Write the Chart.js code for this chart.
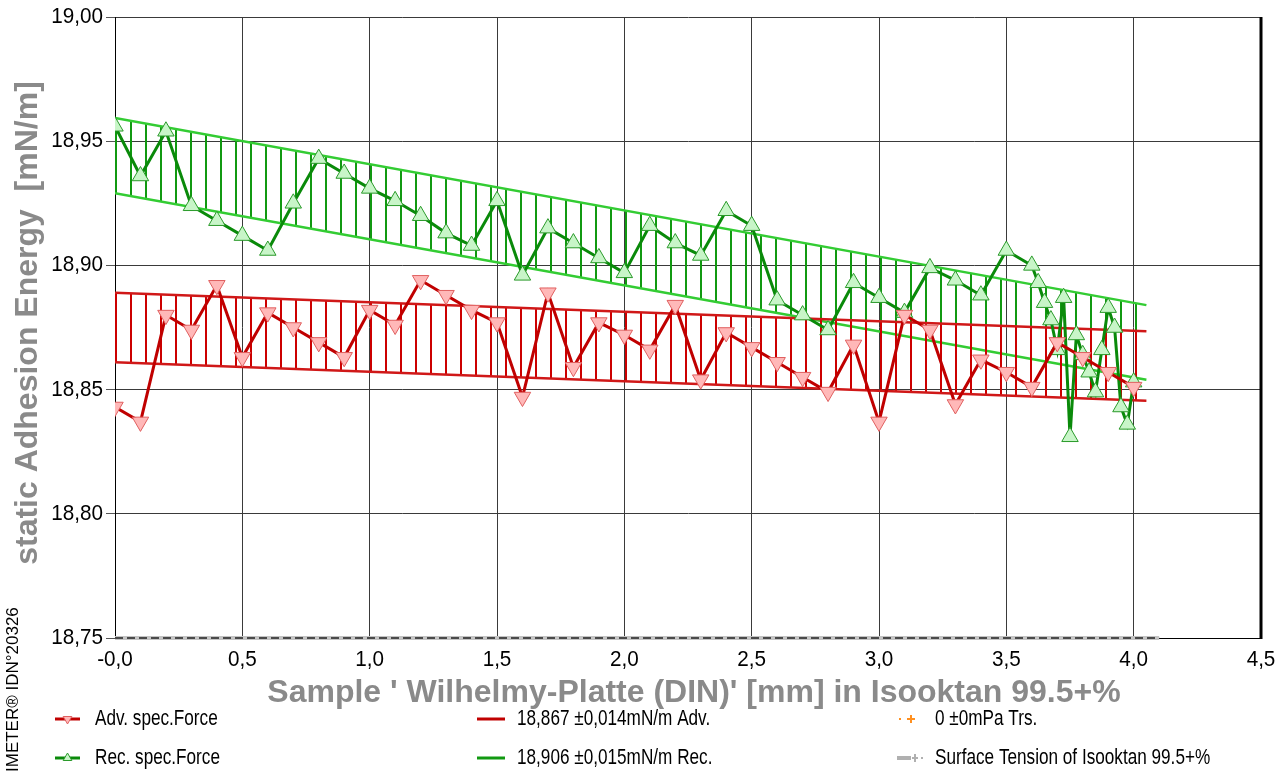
<!DOCTYPE html>
<html>
<head>
<meta charset="utf-8">
<script src="https://cdn.jsdelivr.net/npm/chart.js@4/dist/chart.umd.min.js"></script>
<style>
  html, body { margin: 0; padding: 0; background: #fff; }
  canvas { display: block; }
</style>
</head>
<body>
<canvas id="grafica" width="1279" height="771"></canvas>
<script>
// Datos
const xTickLabels = ["-0,0", "0,5", "1,0", "1,5", "2,0", "2,5", "3,0", "3,5", "4,0", "4,5"];
const yTickLabels = ["18,75", "18,80", "18,85", "18,90", "18,95", "19,00"];

const advX = [0, 0.1, 0.2, 0.3, 0.4, 0.5, 0.6, 0.7, 0.8, 0.9, 1.0, 1.1, 1.2, 1.3, 1.4, 1.5, 1.6, 1.7, 1.8, 1.9,
  2.0, 2.1, 2.2, 2.3, 2.4, 2.5, 2.6, 2.7, 2.8, 2.9, 3.0, 3.1, 3.2, 3.3, 3.4, 3.5, 3.6, 3.7, 3.8, 3.9, 4.0];
const advY = [18.843, 18.837, 18.880, 18.874, 18.892, 18.863, 18.881, 18.875, 18.869, 18.863, 18.882, 18.876,
  18.894, 18.888, 18.882, 18.877, 18.847, 18.889, 18.859, 18.877, 18.872, 18.866, 18.884, 18.854, 18.873,
  18.867, 18.861, 18.855, 18.849, 18.868, 18.837, 18.880, 18.874, 18.844, 18.862, 18.857, 18.851, 18.869,
  18.863, 18.857, 18.851];

const recX = [0, 0.1, 0.2, 0.3, 0.4, 0.5, 0.6, 0.7, 0.8, 0.9, 1.0, 1.1, 1.2, 1.3, 1.4, 1.5, 1.6, 1.7, 1.8, 1.9,
  2.0, 2.1, 2.2, 2.3, 2.4, 2.5, 2.6, 2.7, 2.8, 2.9, 3.0, 3.1, 3.2, 3.3, 3.4, 3.5, 3.6,
  3.625, 3.65, 3.675, 3.7, 3.725, 3.75, 3.775, 3.8, 3.825, 3.85, 3.875, 3.9, 3.925, 3.95, 3.975, 4.0];
const recY = [18.956, 18.936, 18.954, 18.924, 18.918, 18.912, 18.906, 18.925, 18.943, 18.937, 18.931, 18.926,
  18.920, 18.913, 18.908, 18.926, 18.896, 18.915, 18.909, 18.903, 18.897, 18.916, 18.909, 18.904, 18.922,
  18.916, 18.886, 18.880, 18.874, 18.893, 18.887, 18.881, 18.899, 18.894, 18.888, 18.906, 18.900,
  18.893, 18.885, 18.878, 18.866, 18.887, 18.831, 18.872, 18.864, 18.857, 18.849, 18.866, 18.883,
  18.875, 18.843, 18.836, 18.853];

// Bandas de error (mean ± desviación)
const bandX = [0, 4.05];
const advBandHi = [18.889, 18.8735];
const advBandLo = [18.861, 18.8455];
const recBandHi = [18.9593, 18.884];
const recBandLo = [18.9291, 18.854];

// Línea de tensión superficial (en el borde inferior)
const surfX = [0, 4.1];
const surfY = [18.75, 18.75];

const legendRows = [
  ["Adv. spec.Force", "18,867 ±0,014mN/m Adv.", "0 ±0mPa Trs."],
  ["Rec. spec.Force", "18,906 ±0,015mN/m Rec.", "Surface Tension of Isooktan 99.5+%"]
];

const FONT = "'Liberation Sans', Arial, sans-serif";
Chart.defaults.font.family = FONT;

function pts(xs, ys) {
  return xs.map((x, i) => ({ x: x, y: ys[i] }));
}

// Rayado vertical para las bandas
function rayado(color) {
  const c = document.createElement("canvas");
  c.width = 15;
  c.height = 4;
  const g = c.getContext("2d");
  g.fillStyle = color;
  g.fillRect(10, 0, 2, 4);
  return g.createPattern(c, "repeat");
}

function triangulo(ctx, x, y, r, abajo, fill, stroke) {
  const s = abajo ? -1 : 1;
  ctx.beginPath();
  ctx.moveTo(x, y - s * r);
  ctx.lineTo(x + r * 0.866, y + s * r / 2);
  ctx.lineTo(x - r * 0.866, y + s * r / 2);
  ctx.closePath();
  ctx.fillStyle = fill;
  ctx.fill();
  ctx.strokeStyle = stroke;
  ctx.lineWidth = 1;
  ctx.stroke();
}

// texto estrecho (como en el original)
function texto(ctx, t, x, y, escala) {
  ctx.save();
  ctx.translate(x, y);
  ctx.scale(escala, 1);
  ctx.fillText(t, 0, 0);
  ctx.restore();
}

const decor = {
  id: "decor",
  afterDraw(chart) {
    const ctx = chart.ctx;
    const a = chart.chartArea;
    const sx = chart.scales.x;
    const sy = chart.scales.y;
    ctx.save();

    // borde derecho grueso
    ctx.strokeStyle = "#000";
    ctx.lineWidth = 3;
    ctx.beginPath();
    ctx.moveTo(a.right, a.top);
    ctx.lineTo(a.right, a.bottom + 1);
    ctx.stroke();

    // etiquetas de los ejes
    ctx.fillStyle = "#000";
    ctx.font = "22px " + FONT;
    ctx.textBaseline = "middle";
    ctx.textAlign = "right";
    sy.ticks.forEach((t, i) => {
      texto(ctx, yTickLabels[i], 103, sy.getPixelForValue(t.value), 0.94);
    });
    ctx.textAlign = "center";
    sx.ticks.forEach((t, i) => {
      texto(ctx, xTickLabels[i], sx.getPixelForValue(t.value), 660, 0.94);
    });

    // títulos de ejes
    ctx.fillStyle = "#8a8a8a";
    ctx.font = "bold 32px " + FONT;
    ctx.textAlign = "center";
    ctx.textBaseline = "middle";
    ctx.fillText("Sample ' Wilhelmy-Platte (DIN)' [mm] in Isooktan 99.5+%", 694, 693);

    ctx.save();
    ctx.translate(28, 323);
    ctx.rotate(-Math.PI / 2);
    ctx.fillText("static Adhesion Energy  [mN/m]", 0, 0);
    ctx.restore();

    // texto vertical IMETER
    ctx.save();
    ctx.translate(13, 772);
    ctx.rotate(-Math.PI / 2);
    ctx.fillStyle = "#000";
    ctx.font = "17px " + FONT;
    ctx.textAlign = "left";
    ctx.fillText("IMETER® IDN°20326", 0, 0);
    ctx.restore();

    // leyenda
    const filas = [719, 758];
    const cols = [55, 477, 897];
    const textoX = [95, 517, 935];
    filas.forEach((y, f) => {
      // serie
      ctx.strokeStyle = f === 0 ? "#c00000" : "#0a8a0a";
      ctx.lineWidth = 3;
      ctx.beginPath();
      ctx.moveTo(cols[0], y);
      ctx.lineTo(cols[0] + 25, y);
      ctx.stroke();
      if (f === 0) triangulo(ctx, cols[0] + 12.5, y, 5, true, "#ffb8b8", "#e06060");
      else triangulo(ctx, cols[0] + 12.5, y, 5, false, "#c8f5c8", "#2a9a2a");
      // media
      ctx.strokeStyle = f === 0 ? "#c00000" : "#119911";
      ctx.lineWidth = 3;
      ctx.beginPath();
      ctx.moveTo(cols[1], y);
      ctx.lineTo(cols[1] + 28, y);
      ctx.stroke();
      // tercera columna
      if (f === 0) {
        ctx.fillStyle = "#ff9020";
        ctx.fillRect(cols[2] + 2, y - 1, 2, 2);
        ctx.fillRect(cols[2] + 10, y - 1, 8, 2);
        ctx.fillRect(cols[2] + 13, y - 4, 2, 8);
      } else {
        ctx.fillStyle = "#b0b0b0";
        ctx.fillRect(cols[2], y - 2, 14, 4);
        ctx.fillRect(cols[2] + 15, y - 1, 6, 2);
        ctx.fillRect(cols[2] + 17, y - 4, 2, 8);
        ctx.fillRect(cols[2] + 24, y - 1, 2, 2);
      }
      ctx.fillStyle = "#000";
      ctx.font = "22px " + FONT;
      ctx.textAlign = "left";
      ctx.textBaseline = "middle";
      legendRows[f].forEach((t, i) => texto(ctx, t, textoX[i], y, 0.78));
    });

    ctx.restore();
  }
};

const ctx = document.getElementById("grafica").getContext("2d");

new Chart(ctx, {
  type: "line",
  data: {
    datasets: [
      {
        label: legendRows[0][0],
        data: pts(advX, advY),
        borderColor: "#c00000",
        borderWidth: 3,
        pointStyle: "triangle",
        rotation: 180,
        pointRadius: 9.5,
        pointBackgroundColor: "#ffb8b8",
        pointBorderColor: "#e06060",
        pointBorderWidth: 1,
        fill: false,
      },
      {
        label: legendRows[1][0],
        data: pts(recX, recY),
        borderColor: "#0a8a0a",
        borderWidth: 3,
        pointStyle: "triangle",
        pointRadius: 9.5,
        pointBackgroundColor: "#c8f5c8",
        pointBorderColor: "#2a9a2a",
        pointBorderWidth: 1,
        fill: false,
      },
      {
        label: "adv lo",
        data: pts(bandX, advBandLo),
        borderColor: "#d01818",
        borderWidth: 2.5,
        pointRadius: 0,
        fill: false,
      },
      {
        label: "adv hi",
        data: pts(bandX, advBandHi),
        borderColor: "#d01818",
        borderWidth: 2.5,
        pointRadius: 0,
        fill: "-1",
        backgroundColor: rayado("#cc0000"),
      },
      {
        label: "rec lo",
        data: pts(bandX, recBandLo),
        borderColor: "#33cc33",
        borderWidth: 2.5,
        pointRadius: 0,
        fill: false,
      },
      {
        label: "rec hi",
        data: pts(bandX, recBandHi),
        borderColor: "#33cc33",
        borderWidth: 2.5,
        pointRadius: 0,
        fill: "-1",
        backgroundColor: rayado("#119911"),
      },
      {
        label: "trs",
        data: pts(surfX, surfY),
        borderColor: "#222",
        borderWidth: 1.5,
        borderDash: [8, 4],
        pointRadius: 0,
        fill: false,
        clip: false,
      },
      {
        label: legendRows[1][2],
        data: pts(surfX, surfY),
        borderColor: "#c4c4c4",
        borderWidth: 4,
        pointRadius: 0,
        fill: false,
        clip: false,
      },
    ],
  },
  options: {
    responsive: false,
    animation: false,
    layout: { padding: { top: 17, right: 18, left: 0, bottom: 0 } },
    plugins: {
      legend: { display: false },
      tooltip: { enabled: false },
    },
    scales: {
      x: {
        type: "linear",
        min: 0,
        max: 4.5,
        afterFit: (s) => { s.height = 133; },
        ticks: { stepSize: 0.5, display: false },
        grid: { color: "#3a3a3a", lineWidth: 1, drawTicks: false },
        border: { color: "#000", width: 1 },
      },
      y: {
        min: 18.75,
        max: 19.0,
        afterFit: (s) => { s.width = 115; },
        ticks: { stepSize: 0.05, display: false },
        grid: { color: "#3a3a3a", lineWidth: 1, tickLength: 9, tickColor: "#555" },
        border: { color: "#000", width: 1 },
      },
    },
  },
  plugins: [decor],
});
</script>
</body>
</html>
